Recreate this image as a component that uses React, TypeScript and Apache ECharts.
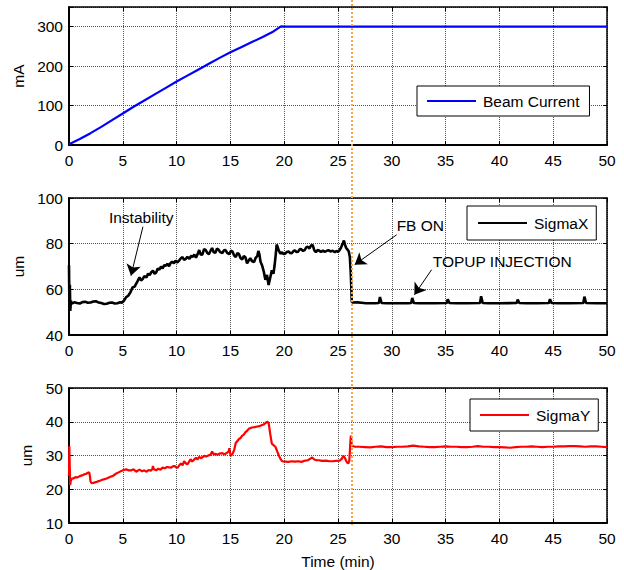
import React, { useEffect, useRef } from "react";
import * as echarts from "echarts";

// ---- Data ----
const timeTicks = [0, 5, 10, 15, 20, 25, 30, 35, 40, 45, 50];

const beamCurrent: [number, number][] = [
  [0, 2], [1, 15], [2, 30], [3, 46], [4, 63], [5, 80], [6, 97], [7, 113], [8, 129], [9, 145],
  [10, 161], [11, 176], [12, 191], [13, 206], [14, 221], [15, 235], [16, 248], [17, 261],
  [18, 274], [19, 288], [19.7, 301], [20, 300], [30, 300], [40, 300], [50, 300],
];

const sigmaX: [number, number][] = [
  [0, 70.5], [0.04, 51], [0.08, 62], [0.12, 50.5], [0.18, 55], [0.25, 53.8], [0.5, 54.3], [0.75, 54.0],
  [1, 53.8], [1.25, 54.4], [1.5, 54.6], [1.75, 54.1], [2, 54.2], [2.25, 54.7], [2.5, 54.8], [2.75, 54.2],
  [3, 54], [3.25, 53.6], [3.5, 53.7], [3.75, 54.1], [4, 54.2], [4.25, 53.8], [4.5, 53.9], [4.75, 54.3],
  [4.9, 54.1], [5.1, 55], [5.3, 56.5], [5.5, 57.2], [5.7, 58.6], [5.9, 60.8], [6.1, 61.2], [6.25, 62.5],
  [6.4, 63.8], [6.55, 65.3], [6.7, 63.9], [6.86, 64.6], [7.0, 65.8], [7.2, 65.2], [7.35, 66.9], [7.5, 66.2],
  [7.65, 67.5], [7.8, 68.2], [7.95, 66.8], [8.1, 67.4], [8.25, 69.1], [8.4, 68.6], [8.55, 69.9], [8.7, 69.2],
  [8.85, 70.6], [9.0, 70.3], [9.15, 71.2], [9.3, 70.1], [9.45, 71.6], [9.6, 72.1], [9.75, 71.4], [9.9, 72.6],
  [10.05, 71.8], [10.2, 72.4], [10.4, 73.6], [10.55, 74.1], [10.7, 72.9], [10.85, 73.3], [11.0, 74.2],
  [11.2, 73.4], [11.35, 74.6], [11.5, 74.3], [11.65, 75.2], [11.8, 73.9], [11.95, 75.4], [12.1, 77.2],
  [12.25, 75.1], [12.4, 75.3], [12.55, 77.6], [12.7, 77.3], [12.85, 75.9], [13.0, 75.4], [13.15, 76.8],
  [13.3, 78.1], [13.45, 76.2], [13.6, 76.0], [13.75, 77.8], [13.9, 77.4], [14.05, 76.3], [14.25, 75.9],
  [14.4, 77.1], [14.55, 77.2], [14.7, 76.0], [14.9, 75.4], [15.05, 76.9], [15.2, 76.5], [15.35, 74.8],
  [15.5, 74.1], [15.65, 75.9], [15.8, 75.4], [15.95, 73.6], [16.1, 73.1], [16.25, 74.6], [16.4, 74.0],
  [16.55, 71.4], [16.7, 72.6], [16.85, 73.6], [17.0, 72.4], [17.2, 71.9], [17.35, 73.8], [17.5, 74.6],
  [17.6, 76.8], [17.7, 75.2], [17.8, 72.1], [17.95, 70.4], [18.1, 67.8], [18.25, 64.2], [18.4, 66.3],
  [18.55, 61.9], [18.7, 65.1], [18.85, 68.3], [19.0, 66.8], [19.1, 70.2], [19.2, 74.5], [19.3, 79.6],
  [19.4, 78.4], [19.5, 76.9], [19.65, 75.6], [19.8, 76.2], [19.95, 75.4], [20.1, 75.7], [20.25, 76.4],
  [20.4, 76.6], [20.55, 75.9], [20.7, 75.8], [20.85, 76.7], [21.0, 77.1], [21.15, 76.3], [21.3, 76.5],
  [21.45, 77.6], [21.6, 77.5], [21.75, 76.8], [21.9, 77.2], [22.05, 78.4], [22.2, 78.6], [22.35, 77.9],
  [22.5, 79.2], [22.65, 79.4], [22.8, 77.1], [22.95, 76.3], [23.1, 77.2], [23.25, 77.0], [23.4, 76.4],
  [23.6, 76.9], [23.75, 76.5], [23.9, 76.7], [24.1, 77.2], [24.3, 76.6], [24.5, 76.9], [24.7, 76.3],
  [24.85, 76.8], [25.0, 76.4], [25.15, 77.2], [25.3, 78.5], [25.45, 80.2], [25.55, 81.4], [25.65, 79.6],
  [25.75, 78.2], [25.9, 77.3], [26.0, 76.6], [26.1, 74.2], [26.18, 67.5], [26.24, 60.5], [26.28, 54.6],
  [26.4, 54.2], [26.8, 54.3], [27.2, 54.1], [27.6, 53.9], [28.0, 53.9], [28.4, 53.9], [28.8, 54.0],
  [28.9, 56.6], [29.05, 54.0], [29.5, 53.9], [30, 53.9], [30.5, 53.9], [31, 53.9], [31.5, 53.9],
  [31.8, 54.0], [31.9, 56.2], [32.05, 54.0], [32.5, 53.9], [33, 53.9], [34, 53.9], [35.1, 54.0],
  [35.2, 55.6], [35.35, 54.0], [36, 53.9], [37, 53.9], [38.2, 54.0], [38.3, 57.0], [38.45, 54.0],
  [39, 53.9], [40, 53.9], [41.6, 54.0], [41.7, 55.5], [41.85, 54.0], [42.5, 53.9], [43.5, 53.9],
  [44.6, 54.0], [44.7, 55.7], [44.85, 54.0], [45.5, 53.9], [46.5, 53.9], [47.8, 54.0], [47.9, 56.8],
  [48.05, 54.0], [49, 53.9], [50, 53.9],
];

const sigmaY: [number, number][] = [
  [0, 24], [0.03, 32.8], [0.07, 27], [0.11, 21.2], [0.16, 22.4], [0.25, 23.1], [0.4, 23.2], [0.6, 23.6],
  [0.8, 23.5], [1.0, 23.9], [1.2, 24.1], [1.4, 24.4], [1.6, 24.6], [1.75, 24.9], [1.88, 25.0], [1.95, 23.8],
  [2.0, 22.3], [2.1, 21.8], [2.25, 21.9], [2.5, 22.1], [2.75, 22.4], [2.86, 22.5], [3.1, 22.8], [3.3, 23.0],
  [3.5, 23.2], [3.8, 23.6], [4.1, 24.0], [4.4, 24.7], [4.6, 25.0], [4.86, 25.4], [5.1, 25.7], [5.3, 25.9],
  [5.55, 25.6], [5.8, 25.6], [6.0, 25.9], [6.25, 25.2], [6.4, 25.5], [6.55, 25.8], [6.8, 25.3], [7.0, 25.6],
  [7.2, 25.2], [7.4, 25.7], [7.6, 25.5], [7.75, 26.0], [7.8, 26.9], [7.88, 25.9], [8.1, 25.6], [8.3, 26.1],
  [8.5, 25.8], [8.7, 26.4], [8.9, 26.2], [9.1, 26.6], [9.3, 26.5], [9.5, 26.4], [9.65, 26.8], [9.8, 26.9],
  [9.95, 26.5], [10.1, 26.4], [10.25, 27.1], [10.4, 27.6], [10.55, 27.1], [10.7, 28.3], [10.85, 27.7],
  [11.0, 27.4], [11.15, 28.1], [11.3, 28.9], [11.45, 28.2], [11.6, 28.7], [11.8, 29.3], [11.95, 28.8],
  [12.1, 29.6], [12.3, 29.2], [12.55, 29.9], [12.75, 29.7], [13.0, 30.1], [13.15, 30.2], [13.3, 31.2],
  [13.45, 30.3], [13.6, 30.5], [13.8, 30.2], [14.0, 30.6], [14.25, 30.7], [14.45, 30.4], [14.7, 30.8],
  [14.85, 31.3], [14.9, 32.2], [14.98, 30.6], [15.05, 29.9], [15.2, 30.5], [15.35, 31.6], [15.5, 33.7],
  [15.65, 34.3], [15.8, 34.9], [15.95, 35.2], [16.1, 35.9], [16.25, 36.2], [16.4, 36.9], [16.55, 37.3],
  [16.7, 37.9], [17.0, 38.3], [17.25, 38.4], [17.5, 38.6], [17.7, 38.7], [17.9, 39.0], [18.1, 39.2],
  [18.25, 39.6], [18.4, 40.0], [18.55, 39.7], [18.62, 38.2], [18.7, 36.4], [18.85, 33.5], [19.0, 33.1],
  [19.2, 32.5], [19.35, 31.2], [19.5, 30.0], [19.65, 29.0], [19.8, 28.3], [20.1, 28.2], [20.4, 28.1],
  [20.7, 28.3], [21.0, 28.2], [21.3, 28.3], [21.6, 28.1], [21.97, 28.5], [22.2, 28.6], [22.4, 29.0],
  [22.6, 29.4], [22.8, 28.8], [23.0, 28.6], [23.25, 28.6], [23.5, 28.4], [23.9, 28.5], [24.2, 28.3],
  [24.5, 28.3], [24.8, 28.4], [25.15, 28.5], [25.35, 29.0], [25.5, 29.9], [25.65, 29.2], [25.8, 28.1],
  [25.95, 27.6], [26.05, 28.5], [26.1, 31.0], [26.15, 34.0], [26.2, 35.9], [26.27, 33.4], [26.35, 32.8],
  [26.6, 32.6], [27, 32.6], [27.5, 32.5], [28, 32.4], [28.5, 32.6], [29, 32.7], [29.5, 32.5], [30, 32.5],
  [30.5, 32.6], [31, 32.6], [31.5, 32.7], [32, 32.9], [32.5, 32.7], [33, 32.6], [33.5, 32.5], [34, 32.5],
  [34.5, 32.6], [35, 32.7], [35.5, 32.6], [36, 32.6], [36.5, 32.5], [37, 32.5], [37.5, 32.6], [38, 32.8],
  [38.5, 32.6], [39, 32.6], [39.5, 32.5], [40, 32.5], [40.5, 32.4], [41, 32.3], [41.5, 32.5], [42, 32.6],
  [42.5, 32.6], [43, 32.7], [43.5, 32.6], [44, 32.5], [44.5, 32.6], [45, 32.6], [45.5, 32.7], [46, 32.7],
  [46.5, 32.8], [47, 32.8], [47.5, 32.7], [48, 32.6], [48.5, 32.7], [49, 32.7], [49.5, 32.6], [50, 32.5],
];

const feedbackOnTime = 26.3;

// annotations in SigmaX data units
const annotationTexts: { text: string; at: [number, number] }[] = [
  { text: "Instability", at: [3.71, 91.4] },
  { text: "FB ON", at: [30.45, 87.9] },
  { text: "TOPUP INJECTION", at: [33.8, 72.1] },
];
const annotationArrows: [[number, number], [number, number]][] = [
  [[6.87, 87.4], [5.76, 66.0]],
  [[30.45, 83.9], [26.55, 70.8]],
  [[33.7, 68.6], [32.1, 57.6]],
];

const FONT = "'Liberation Sans', Arial, Helvetica, sans-serif";
const FS = 15.5;

const grids = [
  { left: 69, top: 7, width: 538, height: 138 },
  { left: 69, top: 198, width: 538, height: 137 },
  { left: 69, top: 388, width: 538, height: 137 },
];

const yRanges = [
  { min: 0, max: 350, interval: 100, name: "mA", gap: 42 },
  { min: 40, max: 100, interval: 20, name: "um", gap: 42 },
  { min: 10, max: 50, interval: 10, name: "um", gap: 35 },
];

export default function App() {
  const ref = useRef<HTMLDivElement>(null);

  useEffect(() => {
    if (!ref.current) return;
    const chart = echarts.init(ref.current, null, { renderer: "svg" });

    const gridLine = { show: true, lineStyle: { color: "#555", type: [1, 1] as any, width: 1 } };
    const mainX = grids.map((_, i) => ({
      type: "value",
      gridIndex: i,
      min: timeTicks[0],
      max: timeTicks[timeTicks.length - 1],
      interval: 5,
      position: "bottom",
      name: i === 2 ? "Time (min)" : "",
      nameLocation: "middle",
      nameGap: 30,
      nameTextStyle: { color: "#000", fontSize: FS, fontFamily: FONT },
      axisLine: { show: true, onZero: false, lineStyle: { color: "#000", width: 2 } },
      axisTick: { show: true, inside: true, length: 4, lineStyle: { color: "#000" } },
      axisLabel: { color: "#000", fontSize: FS, fontFamily: FONT, margin: 7 },
      splitLine: gridLine,
    }));
    const topX = grids.map((_, i) => ({
      type: "value",
      gridIndex: i,
      min: 0,
      max: 50,
      interval: 5,
      position: "top",
      axisLine: { show: true, onZero: false, lineStyle: { color: "#000", width: 1.5 } },
      axisTick: { show: true, inside: true, length: 4, lineStyle: { color: "#000" } },
      axisLabel: { show: false },
      splitLine: { show: false },
    }));
    const mainY = yRanges.map((r, i) => ({
      type: "value",
      gridIndex: i,
      min: r.min,
      max: r.max,
      interval: r.interval,
      position: "left",
      name: r.name,
      nameLocation: "middle",
      nameGap: r.gap,
      nameTextStyle: { color: "#000", fontSize: FS, fontFamily: FONT },
      axisLine: { show: true, onZero: false, lineStyle: { color: "#000", width: 2 } },
      axisTick: { show: true, inside: true, length: 4, lineStyle: { color: "#000" } },
      axisLabel: {
        color: "#000",
        fontSize: FS,
        fontFamily: FONT,
        margin: 6,
        formatter: (v: number) => (v === 350 ? "" : String(v)),
      },
      splitLine: gridLine,
    }));
    const rightY = yRanges.map((r, i) => ({
      type: "value",
      gridIndex: i,
      min: r.min,
      max: r.max,
      interval: r.interval,
      position: "right",
      axisLine: { show: true, onZero: false, lineStyle: { color: "#000", width: 1.5 } },
      axisTick: { show: true, inside: true, length: 4, lineStyle: { color: "#000" } },
      axisLabel: { show: false },
      splitLine: { show: false },
    }));

    const legendBase = {
      orient: "horizontal",
      icon: "rect",
      itemWidth: 49,
      itemHeight: 2,
      backgroundColor: "#fff",
      borderColor: "#000",
      borderWidth: 1,
      borderRadius: 0,
      textStyle: { color: "#000", fontSize: FS, fontFamily: FONT, padding: [0, 0, 0, 2] },
      selectedMode: false,
    };

    const option: any = {
      animation: false,
      backgroundColor: "#fff",
      grid: grids.map((g) => ({ ...g, show: false })),
      xAxis: [...mainX, ...topX],
      yAxis: [...mainY, ...rightY],
      legend: [
        { ...legendBase, data: ["Beam Current"], left: 417, top: 86, padding: [7, 10, 7, 10] },
        { ...legendBase, data: ["SigmaX"], left: 467, top: 206, padding: [9, 8, 9, 11] },
        { ...legendBase, data: ["SigmaY"], left: 470, top: 399, padding: [8, 8, 8, 10] },
      ],
      series: [
        {
          name: "Beam Current",
          type: "line",
          xAxisIndex: 0,
          yAxisIndex: 0,
          data: beamCurrent,
          showSymbol: false,
          symbol: "none",
          color: "#0000ff",
          lineStyle: { color: "#0000ff", width: 2.2 },
        },
        {
          name: "SigmaX",
          type: "line",
          xAxisIndex: 1,
          yAxisIndex: 1,
          data: sigmaX,
          showSymbol: false,
          symbol: "none",
          color: "#000",
          lineStyle: { color: "#000", width: 2.6 },
          markLine: {
            silent: true,
            symbol: ["none", "arrow"],
            symbolSize: 11,
            label: { show: false },
            lineStyle: { color: "#000", width: 1, type: "solid" },
            data: annotationArrows.map(([a, b]) => [{ coord: a }, { coord: b }]),
          },
        },
        {
          name: "SigmaY",
          type: "line",
          xAxisIndex: 2,
          yAxisIndex: 2,
          data: sigmaY,
          showSymbol: false,
          symbol: "none",
          color: "#ff0000",
          lineStyle: { color: "#ff0000", width: 2.2 },
        },
      ],
    };

    chart.setOption(option);

    const xLine = chart.convertToPixel({ xAxisIndex: 0 }, feedbackOnTime) as number;
    const yBottom = chart.convertToPixel({ yAxisIndex: 2 }, 10) as number;
    const texts = annotationTexts.map((a) => {
      const p = chart.convertToPixel({ xAxisIndex: 1, yAxisIndex: 1 }, a.at) as number[];
      return {
        type: "text",
        x: p[0],
        y: p[1],
        z: 100,
        style: {
          text: a.text,
          fill: "#000",
          fontSize: FS,
          fontFamily: FONT,
          textAlign: "left",
          textVerticalAlign: "middle",
        },
      };
    });

    chart.setOption({
      graphic: [
        {
          type: "line",
          z: 200,
          shape: { x1: xLine, y1: 0, x2: xLine, y2: yBottom + 2 },
          style: { stroke: "#f9a54c", lineWidth: 2, lineDash: [2, 2] },
        },
        ...texts,
      ],
    });

    return () => chart.dispose();
  }, []);

  return (
    <div
      ref={ref}
      style={{ position: "fixed", left: 0, top: 0, width: 624, height: 570, background: "#fff" }}
    />
  );
}
